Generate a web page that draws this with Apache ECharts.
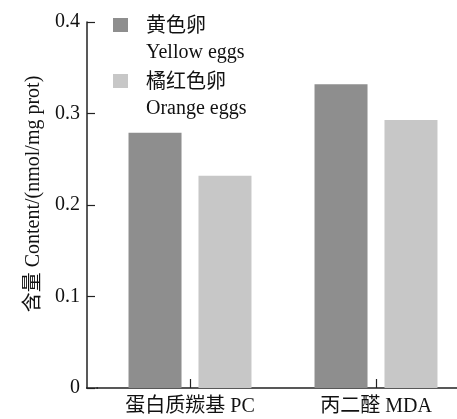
<!DOCTYPE html>
<html>
<head>
<meta charset="utf-8">
<script src="https://cdn.jsdelivr.net/npm/echarts@6/dist/echarts.min.js"></script>
<style>html,body{margin:0;padding:0;background:#fff}#c{width:457px;height:419px}</style>
</head>
<body>
<div id="c"></div>
<script>
const categories = ['蛋白质羰基 PC', '丙二醛 MDA'];
const yellowEggs = [0.279, 0.332];
const orangeEggs = [0.232, 0.293];
const seriesNames = ['黄色卵\nYellow eggs', '橘红色卵\nOrange eggs'];
const yTicks = [0, 0.1, 0.2, 0.3, 0.4];

const FONT = '"Liberation Serif", "Noto Sans CJK SC", serif';
const chart = echarts.init(document.getElementById('c'));
chart.setOption({
  animation: false,
  backgroundColor: '#fff',
  textStyle: { fontFamily: FONT },
  grid: { left: 97, top: 22, right: -12, bottom: 31, containLabel: false, outerBoundsMode: 'none' },
  legend: {
    orient: 'vertical',
    left: 113,
    top: -6,
    padding: 0,
    itemGap: -13,
    itemWidth: 15,
    itemHeight: 14,
    icon: 'rect',
    formatter: function (n) {
      return '{s| }\n' + n.split('\n').map(function (t) { return '{t|' + t + '}'; }).join('\n');
    },
    textStyle: {
      fontFamily: FONT, fontSize: 20, color: '#111',
      rich: {
        s: { fontSize: 10, lineHeight: 30, padding: [0, 0, 0, 13] },
        t: { fontFamily: FONT, fontSize: 20, lineHeight: 26, color: '#111', padding: [0, 0, 0, 13] }
      }
    },
    data: seriesNames
  },
  xAxis: {
    type: 'category',
    data: categories,
    axisLine: { lineStyle: { color: '#222', width: 1.5 } },
    axisTick: { show: true, inside: true, alignWithLabel: true, length: 9, lineStyle: { color: '#222', width: 1.2 } },
    axisLabel: { fontFamily: FONT, fontSize: 20, color: '#111', margin: 9 }
  },
  yAxis: {
    type: 'value',
    min: yTicks[0],
    max: yTicks[yTicks.length - 1],
    interval: 0.1,
    offset: 10,
    name: '含量 Content/(nmol/mg prot)',
    nameLocation: 'middle',
    nameGap: 39,
    nameTextStyle: { fontFamily: FONT, fontSize: 20, color: '#111', padding: [0, 0, 0, 22] },
    splitLine: { show: false },
    axisLine: { show: true, lineStyle: { color: '#222', width: 1.5 } },
    axisTick: { show: true, inside: true, length: 8, lineStyle: { color: '#222', width: 1.2 } },
    axisLabel: { fontFamily: FONT, fontSize: 20, color: '#111', margin: 7 }
  },
  graphic: [{
    type: 'line',
    shape: { x1: 86, y1: 388, x2: 98, y2: 388 },
    style: { stroke: '#222', lineWidth: 1.5 }
  }],
  series: [
    { name: seriesNames[0], type: 'bar', data: yellowEggs, barWidth: 53, barGap: '32%',
      itemStyle: { color: '#8e8e8e' } },
    { name: seriesNames[1], type: 'bar', data: orangeEggs, barWidth: 53, barGap: '32%',
      itemStyle: { color: '#c7c7c7' } }
  ]
});
</script>
</body>
</html>
